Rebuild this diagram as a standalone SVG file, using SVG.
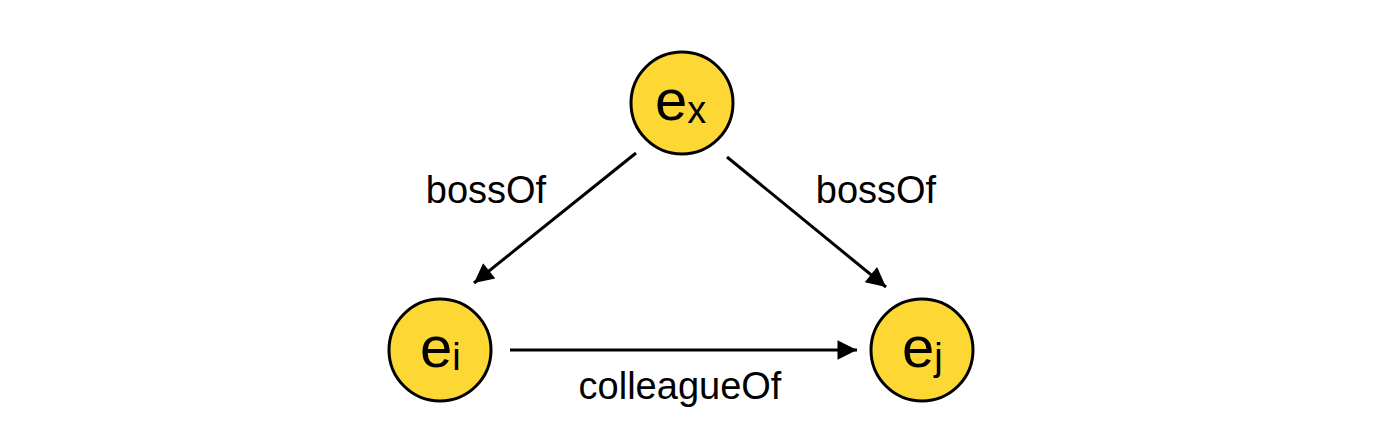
<svg xmlns="http://www.w3.org/2000/svg" width="1380" height="440" viewBox="0 0 1380 440">
<defs>
<style>
.node{fill:#FDD835;stroke:#000;stroke-width:3}
.lbl{font-family:"Liberation Sans",Arial,sans-serif;font-size:38px;fill:#000}
.nm{font-family:"Liberation Sans",Arial,sans-serif;font-size:58px;fill:#000}
.sub{font-size:38px}
.edge{stroke:#000;stroke-width:3;fill:none}
</style>
<marker id="ah" viewBox="0 0 10 10" refX="10" refY="5" markerWidth="8" markerHeight="6.5" markerUnits="strokeWidth" orient="auto">
<path d="M0,0 L10,5 L0,10 z" fill="#000"/>
</marker>
</defs>
<rect width="1380" height="440" fill="#fff"/>
<g id="connectors">
<line class="edge" x1="636" y1="153" x2="474" y2="283" marker-end="url(#ah)"/>
<line class="edge" x1="727" y1="157" x2="886" y2="287" marker-end="url(#ah)"/>
<line class="edge" x1="510" y1="350" x2="857" y2="350" marker-end="url(#ah)"/>
<text class="lbl" x="486" y="203" text-anchor="middle">bossOf</text>
<text class="lbl" x="876" y="203" text-anchor="middle">bossOf</text>
<text class="lbl" x="680" y="399" text-anchor="middle">colleagueOf</text>
</g>
<g id="ex">
<circle class="node" cx="682" cy="103" r="51"/>
<text class="nm" x="655" y="120">e<tspan class="sub" dy="3">x</tspan></text>
</g>
<g id="ei">
<circle class="node" cx="440" cy="350" r="51"/>
<text class="nm" x="420" y="367">e<tspan class="sub" dy="3">i</tspan></text>
</g>
<g id="ej">
<circle class="node" cx="922" cy="350" r="51"/>
<text class="nm" x="902" y="367">e<tspan class="sub" dy="3">j</tspan></text>
</g>
</svg>
